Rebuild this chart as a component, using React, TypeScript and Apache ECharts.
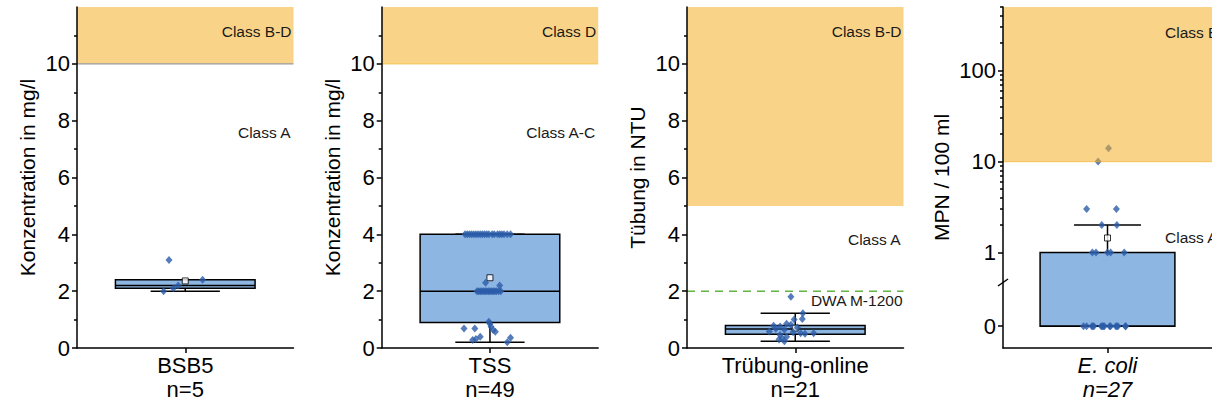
import React, { useEffect, useRef } from "react";
import * as echarts from "echarts";

// ---- data -------------------------------------------------------------
const categories = ["BSB5", "TSS", "Trübung-online", "E. coli"];
const sampleCounts = [5, 49, 21, 27];
const yAxisNames = ["Konzentration in mg/l", "Konzentration in mg/l", "Tübung in NTU", "MPN / 100 ml"];

// box statistics: [lower whisker, Q1, median, Q3, upper whisker]
const bsb5Box = [2.0, 2.1, 2.2, 2.4, 2.4];
const tssBox = [0.2, 0.9, 2.0, 4.0, 4.0];
const turbidityBox = [0.24, 0.48, 0.67, 0.79, 1.22];
const ecoliBox = [0, 0, 0, 1, 2];

// single measurements
const bsb5Values = [2.0, 2.1, 2.2, 2.4, 3.1];
const tssValues = [
  4, 4, 4, 4, 4, 4, 4, 4, 4, 4, 4, 4, 4, 4, 4, 4, 4, 4, 4, 4,
  2, 2, 2, 2, 2, 2, 2, 2, 2, 2, 2, 2, 2, 2, 2,
  2.2, 2.3,
  0.92, 0.85, 0.75, 0.69, 0.69, 0.63, 0.57, 0.4, 0.36, 0.32, 0.28, 0.2,
];
const turbidityValues = [
  1.8, 1.22, 1.02, 1.0, 0.85, 0.82, 0.78, 0.76, 0.72, 0.68, 0.64,
  0.58, 0.55, 0.52, 0.5, 0.52, 0.46, 0.4, 0.33, 0.3, 0.24,
];
const ecoliValues = [
  0, 0, 0, 0, 0, 0, 0, 0, 0, 0, 0, 0, 0, 0, 0, 0,
  1, 1, 1, 1, 1,
  2, 2, 3, 3, 10, 14,
];

// horizontal jitter of the single points (x axis runs from -1 to 1)
const bsb5Jitter = [-0.2, -0.11, -0.065, 0.16, -0.15];
const tssJitter = [
  -0.23, -0.21, -0.19, -0.17, -0.15, -0.13, -0.11, -0.09, -0.07, -0.05,
  -0.03, -0.01, 0.02, 0.04, 0.07, 0.09, 0.11, 0.13, 0.16, 0.19,
  -0.12, -0.105, -0.09, -0.075, -0.06, -0.045, -0.03, -0.015, 0, 0.015,
  0.03, 0.045, 0.06, 0.08, 0.1,
  0.09, -0.04,
  -0.01, 0.0, 0.01, -0.24, -0.14, 0.03, 0.05, -0.09, 0.19, -0.13, -0.16, 0.16,
];
const turbidityJitter = [
  -0.04, 0.07, 0.065, -0.01, -0.08, -0.04, -0.2, -0.14, 0.02, -0.18, -0.1,
  -0.24, -0.02, 0.05, 0.09, 0.17, -0.14, -0.08, -0.12, -0.15, -0.1,
];
const ecoliJitter = [
  -0.23, -0.2, -0.15, -0.14, -0.13, -0.06, -0.05, -0.04, -0.03, 0.02,
  0.03, 0.08, 0.09, 0.1, 0.175, 0.17,
  -0.145, -0.11, 0, 0.03, 0.16,
  -0.055, 0.09, -0.2, 0.085, -0.09, 0.01,
];

// quality classes
const bandRanges = [
  [10, 12],
  [10, 12],
  [5, 12],
  [10, 500],
];
const classUpperLabels = ["Class B-D", "Class D", "Class B-D", "Class B-D"];
const classLowerLabels = ["Class A", "Class A-C", "Class A", "Class A"];
const guidelineValue = 2; // DWA M-1200 turbidity guideline
const guidelineLabel = "DWA M-1200";

// ---- layout / styling ---------------------------------------------------
const FONT = 'Arial, "Liberation Sans", Helvetica, sans-serif';
const GRID_TOP = 7;
const GRID_HEIGHT = 341;
const GRID_WIDTH = 216.5;
const gridLefts = [77, 381.7, 687, 1003];
const BOX_FILL = "#8DB6E3";
const POINT_COLOR = "#2C5DA9";
const BAND_COLOR = "rgba(244, 176, 38, 0.55)";
const bandEdgeColors = ["#9a9a9a", "rgba(244,176,38,0.6)", null, "rgba(244,176,38,0.6)"];
const AXIS_FONT_SIZE = 22;
const CLASS_FONT_SIZE = 15.5;

// log axis with a linear segment for zero (E. coli)
const ZERO_LEVEL = -0.81;
const BREAK_LEVEL = -0.33;
const toLogAxis = (v: number) => (v > 0 ? Math.log10(v) : ZERO_LEVEL);

const linearMajors = [0, 2, 4, 6, 8, 10];
const linearMinors = [1, 3, 5, 7, 9, 11];
const logMajors = [ZERO_LEVEL, 0, 1, 2];
const logMinorValues = [2, 3, 4, 5, 6, 7, 8, 9, 20, 30, 40, 50, 60, 70, 80, 90, 200, 300, 400, 500];

// vertical text anchors (axis units) for the class labels
const upperLabelLevels = [11.15, 11.15, 11.15, 2.42];
const lowerLabelLevels = [7.6, 7.6, 3.82, 0.16];
const guidelineLabelLevel = 1.68;

const panels = [
  { box: bsb5Box, values: bsb5Values, jitter: bsb5Jitter, log: false },
  { box: tssBox, values: tssValues, jitter: tssJitter, log: false },
  { box: turbidityBox, values: turbidityValues, jitter: turbidityJitter, log: false },
  { box: ecoliBox, values: ecoliValues, jitter: ecoliJitter, log: true },
];

const BOX_HALF = 0.645;
const CAP_HALF = 0.32;

function buildOption() {
  const grid: any[] = [];
  const xAxis: any[] = [];
  const yAxis: any[] = [];
  const series: any[] = [];
  const axisLineStyle = { color: "#000", width: 1.5 };

  panels.forEach((p, i) => {
    const tf = p.log ? toLogAxis : (v: number) => v;
    const yMin = p.log ? -1.05 : 0;
    const yMax = p.log ? Math.log10(500) : 12;

    grid.push({ left: gridLefts[i], top: GRID_TOP, width: GRID_WIDTH, height: GRID_HEIGHT });

    xAxis.push({
      type: "value",
      gridIndex: i,
      min: -1,
      max: 1,
      z: 10,
      axisLine: { show: true, onZero: false, lineStyle: axisLineStyle },
      axisTick: { show: true, customValues: [0], length: 5, lineStyle: axisLineStyle },
      axisLabel: {
        customValues: [0],
        formatter: () => `${categories[i]}\nn=${sampleCounts[i]}`,
        fontSize: AXIS_FONT_SIZE,
        lineHeight: 24,
        margin: 5,
        color: "#000",
        fontFamily: FONT,
        fontStyle: p.log ? "italic" : "normal",
      },
      splitLine: { show: false },
    });

    const majors = p.log ? logMajors : linearMajors;
    const minors = p.log ? logMinorValues.map(toLogAxis) : linearMinors;

    yAxis.push({
      type: "value",
      gridIndex: i,
      min: yMin,
      max: yMax,
      z: 10,
      name: yAxisNames[i],
      nameLocation: "middle",
      nameGap: p.log ? 51 : 39,
      nameTextStyle: { fontSize: 21, color: "#000", fontFamily: FONT },
      axisLine: { show: true, onZero: false, lineStyle: axisLineStyle },
      axisTick: { show: true, customValues: majors, length: 5, lineStyle: axisLineStyle },
      axisLabel: {
        customValues: majors,
        formatter: (v: number) =>
          p.log ? (v < -0.5 ? "0" : String(Math.round(Math.pow(10, v)))) : String(v),
        fontSize: AXIS_FONT_SIZE,
        margin: 7,
        color: "#000",
        fontFamily: FONT,
      },
      splitLine: { show: false },
    });
    yAxis.push({
      type: "value",
      gridIndex: i,
      position: "left",
      min: yMin,
      max: yMax,
      z: 10,
      axisLine: { show: false, onZero: false },
      axisTick: { show: true, customValues: minors, length: 3, lineStyle: axisLineStyle },
      axisLabel: { show: false },
      splitLine: { show: false },
    });
    const yIdx = i * 2;

    // box + whiskers
    series.push({
      type: "custom",
      xAxisIndex: i,
      yAxisIndex: yIdx,
      z: 2,
      silent: true,
      data: [[0, ...p.box.map(tf)]],
      renderItem: (_params: any, api: any) => {
        const wl = api.value(1), q1 = api.value(2), med = api.value(3), q3 = api.value(4), wh = api.value(5);
        const c = (x: number, y: number) => api.coord([x, y]);
        const stroke = { stroke: "#000", lineWidth: 1.5 };
        const tl = c(-BOX_HALF, q3);
        const br = c(BOX_HALF, q1);
        const line = (a: number[], b: number[]) => ({
          type: "line",
          shape: { x1: a[0], y1: a[1], x2: b[0], y2: b[1] },
          style: stroke,
        });
        return {
          type: "group",
          children: [
            line(c(0, wh), c(0, q3)),
            line(c(0, q1), c(0, wl)),
            line(c(-CAP_HALF, wh), c(CAP_HALF, wh)),
            line(c(-CAP_HALF, wl), c(CAP_HALF, wl)),
            {
              type: "rect",
              shape: { x: tl[0], y: tl[1], width: br[0] - tl[0], height: br[1] - tl[1] },
              style: { fill: BOX_FILL, stroke: "#000", lineWidth: 1.5 },
            },
            line(c(-BOX_HALF, med), c(BOX_HALF, med)),
          ],
        };
      },
    });

    // mean marker (drawn below the single points)
    const mean = p.values.reduce((s, v) => s + v, 0) / p.values.length;
    series.push({
      type: "scatter",
      xAxisIndex: i,
      yAxisIndex: yIdx,
      z: 3,
      silent: true,
      symbol: "rect",
      symbolSize: 6,
      itemStyle: { color: "#fff", borderColor: "#000", borderWidth: 1 },
      data: [[0, tf(mean)]],
    });

    // single measurements
    series.push({
      type: "scatter",
      xAxisIndex: i,
      yAxisIndex: yIdx,
      z: 4,
      silent: true,
      symbol: "diamond",
      symbolSize: [7, 8],
      itemStyle: { color: POINT_COLOR },
      data: p.values.map((v, k) => [p.jitter[k], tf(v)]),
    });

    // quality class band
    const edge = bandEdgeColors[i];
    series.push({
      type: "custom",
      xAxisIndex: i,
      yAxisIndex: yIdx,
      z: 5,
      silent: true,
      data: [[0, tf(bandRanges[i][0]), tf(bandRanges[i][1])]],
      renderItem: (_params: any, api: any) => {
        const lo = api.coord([-1, api.value(1)]);
        const hi = api.coord([1, api.value(2)]);
        const children: any[] = [
          {
            type: "rect",
            shape: { x: lo[0], y: hi[1], width: hi[0] - lo[0], height: lo[1] - hi[1] },
            style: { fill: BAND_COLOR },
          },
        ];
        if (edge) {
          children.push({
            type: "line",
            shape: { x1: lo[0], y1: lo[1], x2: hi[0], y2: lo[1] },
            style: { stroke: edge, lineWidth: 1.2 },
          });
        }
        return { type: "group", children };
      },
    });

    if (i === 2) {
      series.push({
        type: "line",
        xAxisIndex: i,
        yAxisIndex: yIdx,
        z: 4,
        silent: true,
        symbol: "none",
        lineStyle: { color: "#63B347", width: 1.5, type: [8, 6] },
        data: [
          [-1, guidelineValue],
          [1, guidelineValue],
        ],
      });
    }
  });

  return { animation: false, backgroundColor: "#fff", grid, xAxis, yAxis, series };
}

function buildGraphics(chart: any) {
  const els: any[] = [];
  const textStyle = (text: string, align: string) => ({
    text,
    align,
    verticalAlign: "middle",
    fontSize: CLASS_FONT_SIZE,
    fontFamily: FONT,
    fill: "#1a1a1a",
  });
  panels.forEach((p, i) => {
    const up = chart.convertToPixel({ gridIndex: i }, [1, upperLabelLevels[i]]);
    const low = chart.convertToPixel({ gridIndex: i }, [1, lowerLabelLevels[i]]);
    if (p.log) {
      const x = gridLefts[i] + 162;
      els.push({ type: "text", z: 100, x, y: up[1], style: textStyle(classUpperLabels[i], "left") });
      els.push({ type: "text", z: 100, x, y: low[1], style: textStyle(classLowerLabels[i], "left") });
      const br = chart.convertToPixel({ gridIndex: i }, [-1, BREAK_LEVEL]);
      els.push({
        type: "line",
        z: 100,
        shape: { x1: br[0] - 5, y1: br[1] + 3.5, x2: br[0] + 5, y2: br[1] - 3.5 },
        style: { stroke: "#000", lineWidth: 1.5 },
      });
    } else {
      els.push({ type: "text", z: 100, x: up[0] - 2, y: up[1], style: textStyle(classUpperLabels[i], "right") });
      els.push({ type: "text", z: 100, x: low[0] - 3, y: low[1], style: textStyle(classLowerLabels[i], "right") });
    }
    if (i === 2) {
      const g = chart.convertToPixel({ gridIndex: i }, [1, guidelineLabelLevel]);
      els.push({ type: "text", z: 100, x: g[0] - 1, y: g[1], style: textStyle(guidelineLabel, "right") });
    }
  });
  return els;
}

export default function App() {
  const ref = useRef<HTMLDivElement>(null);
  useEffect(() => {
    if (!ref.current) return;
    const chart = echarts.init(ref.current, null, { renderer: "svg" });
    chart.setOption(buildOption());
    chart.setOption({ graphic: buildGraphics(chart) });
    return () => chart.dispose();
  }, []);
  return (
    <div
      ref={ref}
      style={{ position: "absolute", left: 0, top: 0, width: 1212, height: 405, background: "#fff" }}
    />
  );
}
